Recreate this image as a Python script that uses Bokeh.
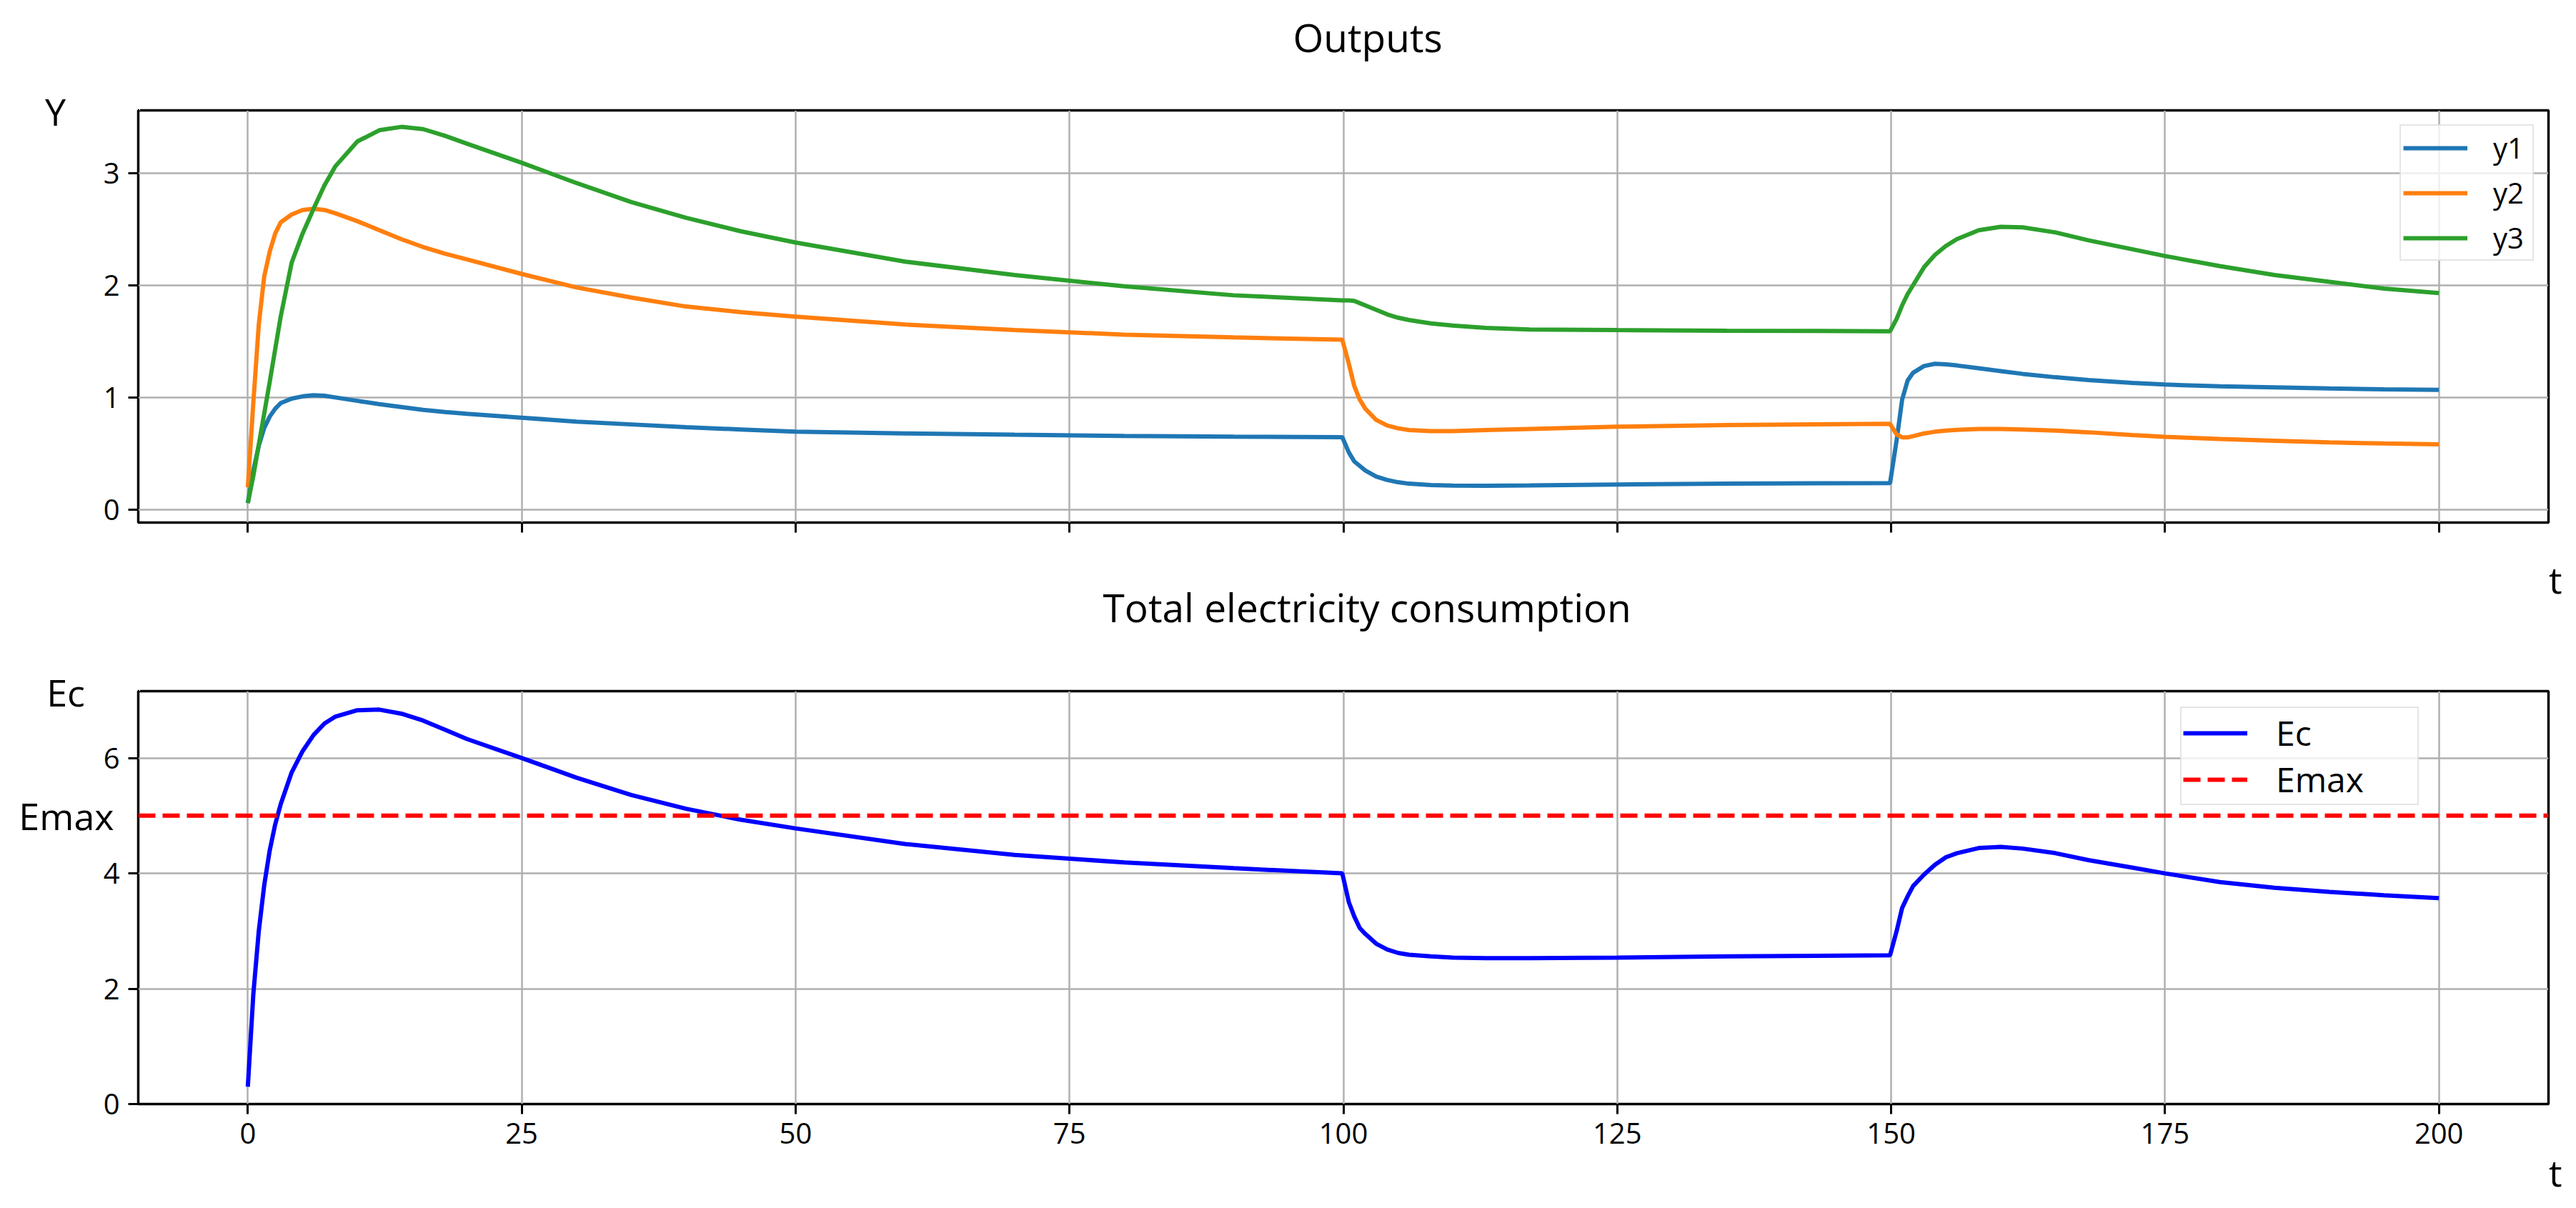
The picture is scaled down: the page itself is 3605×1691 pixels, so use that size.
from bokeh.plotting import figure
from bokeh.models import FixedTicker, LinearAxis, Range1d, Title
from bokeh.layouts import column
from bokeh.embed import file_html
from bokeh.resources import INLINE

# ---------------- data ----------------
t = [0, 0.5, 1, 1.5, 2, 2.5, 3, 4, 5, 6, 7, 8, 10, 12, 14, 16, 18, 20, 25, 30, 35, 40, 45, 50, 60, 70, 80, 90, 99.9,
     100.5, 101, 101.5, 102, 103, 104, 105, 106, 108, 110, 113, 117, 125, 135, 149.9,
     150.5, 151, 151.5, 152, 153, 154, 155, 156, 158, 160, 162, 165, 168, 172, 175, 180, 185, 190, 195, 200]

y1 = [0.06, 0.35, 0.57, 0.73, 0.83, 0.9, 0.95, 0.99, 1.01, 1.02, 1.015, 1.0, 0.97, 0.94, 0.915, 0.89, 0.87, 0.855,
      0.82, 0.785, 0.76, 0.735, 0.715, 0.695, 0.68, 0.668, 0.658, 0.651, 0.646,
      0.51, 0.43, 0.39, 0.35, 0.295, 0.265, 0.245, 0.232, 0.22, 0.215, 0.214, 0.217, 0.225, 0.232, 0.238,
      0.62, 0.98, 1.15, 1.22, 1.28, 1.30, 1.295, 1.285, 1.26, 1.235, 1.21, 1.18, 1.155, 1.13, 1.115, 1.1, 1.09,
      1.08, 1.072, 1.068]

y2 = [0.2, 0.95, 1.65, 2.08, 2.3, 2.46, 2.56, 2.63, 2.67, 2.68, 2.67, 2.64, 2.57, 2.49, 2.41, 2.34, 2.28, 2.23,
      2.1, 1.98, 1.89, 1.81, 1.76, 1.72, 1.65, 1.6, 1.56, 1.535, 1.515,
      1.3, 1.1, 0.98, 0.9, 0.8, 0.75, 0.725, 0.71, 0.70, 0.70, 0.71, 0.72, 0.74, 0.755, 0.765,
      0.67, 0.645, 0.645, 0.655, 0.68, 0.695, 0.705, 0.712, 0.72, 0.72, 0.715, 0.705, 0.69, 0.665, 0.65, 0.63,
      0.615, 0.6, 0.59, 0.583]

y3 = [0.06, 0.3, 0.58, 0.86, 1.14, 1.43, 1.72, 2.2, 2.46, 2.68, 2.89, 3.06, 3.28, 3.38, 3.41, 3.39, 3.33, 3.26,
      3.09, 2.91, 2.74, 2.6, 2.48, 2.38, 2.21, 2.09, 1.99, 1.91, 1.865,
      1.865, 1.86, 1.84, 1.82, 1.78, 1.74, 1.71, 1.69, 1.66, 1.64, 1.62, 1.605, 1.60, 1.595, 1.59,
      1.7, 1.82, 1.92, 2.0, 2.16, 2.27, 2.35, 2.41, 2.49, 2.52, 2.515, 2.47, 2.40, 2.32, 2.26, 2.17, 2.09,
      2.03, 1.97, 1.93]

ec = [0.3, 1.9, 3.0, 3.8, 4.4, 4.85, 5.2, 5.75, 6.12, 6.4, 6.6, 6.72, 6.83, 6.84, 6.77, 6.65, 6.49, 6.33,
      6.0, 5.66, 5.36, 5.12, 4.93, 4.78, 4.51, 4.32, 4.19, 4.09, 4.0,
      3.5, 3.25, 3.05, 2.95, 2.78, 2.68, 2.62, 2.59, 2.56, 2.54, 2.53, 2.53, 2.54, 2.56, 2.58,
      3.0, 3.4, 3.6, 3.78, 3.98, 4.15, 4.28, 4.35, 4.44, 4.46, 4.43, 4.35, 4.23, 4.1, 4.0, 3.85, 3.75,
      3.68, 3.62, 3.57]

emax = 5
series_names = ["y1", "y2", "y3"]
series_colors = ["#1f77b4", "#ff7f0e", "#2ca02c"]
x_ticks = [0, 25, 50, 75, 100, 125, 150, 175, 200]
y_ticks_top = [0, 1, 2, 3]
y_ticks_bottom = [0, 2, 4, 6]

# ---------------- styling helpers ----------------
FONT = "Open Sans"
W = 3597
x_lo, x_hi = -10, 210
NB = "\u00a0"
LW = 6


def style(p, yticks):
    p.outline_line_color = "black"
    p.outline_line_width = 3.5
    p.background_fill_color = "white"
    p.border_fill_color = "white"
    p.xaxis.ticker = FixedTicker(ticks=x_ticks)
    p.yaxis.ticker = FixedTicker(ticks=yticks)
    for ax in (p.xaxis[0], p.yaxis[0]):
        ax.axis_line_color = None
        ax.major_tick_line_color = "black"
        ax.major_tick_line_width = 3
        ax.major_tick_out = 14
        ax.major_tick_in = 0
        ax.minor_tick_line_color = None
        ax.major_label_text_font = FONT
        ax.major_label_text_font_size = "40px"
        ax.major_label_text_color = "black"
        ax.major_label_standoff = 12
    p.xgrid.grid_line_color = "#b0b0b0"
    p.ygrid.grid_line_color = "#b0b0b0"
    p.xgrid.grid_line_width = 2.5
    p.ygrid.grid_line_width = 2.5


def spacer(size):
    # an empty axis used only to reserve vertical room between the frame and the titles
    return LinearAxis(ticker=FixedTicker(ticks=[x_lo + 0.1]), axis_line_color=None,
                      major_tick_line_color="white", major_tick_line_width=1,
                      minor_tick_line_color=None, major_tick_out=size, major_tick_in=0,
                      major_label_text_color=None, major_label_standoff=0)


def title(text, align, offset, standoff, size="55px"):
    return Title(text=text, align=align, offset=offset, standoff=standoff, vertical_align="bottom",
                 text_font=FONT, text_font_size=size, text_font_style="normal", text_color="black")


def side_labels(ticks, labels):
    return LinearAxis(ticker=FixedTicker(ticks=ticks), major_label_overrides=dict(zip(ticks, labels)),
                      axis_line_color=None, major_tick_line_color=None, minor_tick_line_color=None,
                      major_tick_out=0, major_tick_in=0, major_label_standoff=-18,
                      major_label_text_font=FONT, major_label_text_font_size="52px",
                      major_label_text_color="black")


def legend_style(lg, size, gh, spacing, padding):
    lg.label_text_font = FONT
    lg.label_text_font_size = size
    lg.label_text_color = "black"
    lg.glyph_width = 90
    lg.glyph_height = gh
    lg.label_height = gh
    lg.spacing = spacing
    lg.padding = padding
    lg.border_line_color = "#cccccc"
    lg.border_line_width = 2
    lg.background_fill_alpha = 0.8


# ---------------- top: Outputs ----------------
p1 = figure(width=W, height=770, output_backend="svg", toolbar_location=None, title=None,
            x_range=Range1d(x_lo, x_hi), y_range=Range1d(-0.114, 3.557),
            min_border_left=193, min_border_right=31, min_border_top=154, min_border_bottom=39)
style(p1, y_ticks_top)
p1.xaxis[0].major_label_text_color = None

for name, col, ys in zip(series_names, series_colors, [y1, y2, y3]):
    p1.line(t, ys, line_color=col, line_width=LW, legend_label=name)

lg = p1.legend[0]
lg.location = "top_right"
lg.margin = 20
lg.label_standoff = 36
lg.label_width = 52
legend_style(lg, "40px", 40, 8, 3)

p1.add_layout(side_labels([3.55], ["Y" + NB * 5]), "left")
p1.add_layout(spacer(86), "above")
p1.add_layout(title("Outputs", "left", 1616, -40), "above")

# ---------------- bottom: Total electricity consumption ----------------
p2 = figure(width=W, height=915, output_backend="svg", toolbar_location=None, title=None,
            x_range=Range1d(x_lo, x_hi), y_range=Range1d(0, 7.16),
            min_border_left=193, min_border_right=31, min_border_top=197, min_border_bottom=140)
style(p2, y_ticks_bottom)

p2.line(t, ec, line_color="#0000ff", line_width=LW, legend_label="Ec")
p2.line([x_lo, x_hi], [emax, emax], line_color="#ff0000", line_width=LW, line_dash="24 10",
        legend_label="Emax")

lg2 = p2.legend[0]
lg2.location = (2858, 418)
lg2.label_standoff = 40
lg2.label_width = 196
lg2.label_text_line_height = 1.0
legend_style(lg2, "48px", 40, 0, 2)

p2.add_layout(side_labels([7.15, emax], ["Ec" + NB * 3, "Emax"]), "left")
p2.add_layout(spacer(91), "above")
p2.add_layout(title("Total electricity consumption", "left", 1350, -20), "above")
p2.add_layout(title("t", "right", -19, -52, "52px"), "above")      # x-label of the upper panel
p2.add_layout(title("t", "right", -19, -1, "52px"), "below")       # x-label of the lower panel

layout = column(p1, p2)
open("out.html", "w").write(file_html(layout, INLINE))
